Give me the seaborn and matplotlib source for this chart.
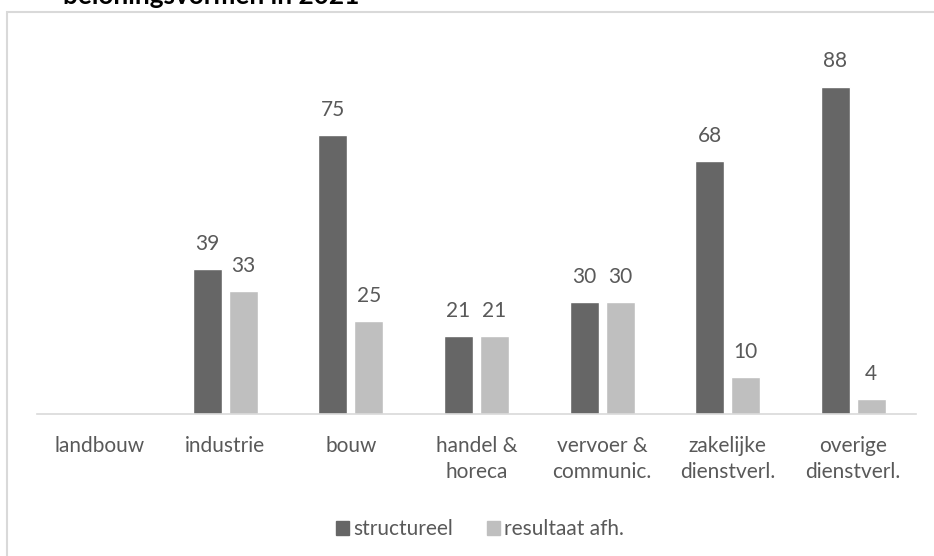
import pandas as pd
import numpy as np
import matplotlib.pyplot as plt
import seaborn as sns
from matplotlib.patches import Rectangle

sectoren = ['landbouw', 'industrie', 'bouw', 'handel &\nhoreca', 'vervoer &\ncommunic.',
            'zakelijke\ndienstverl.', 'overige\ndienstverl.']
structureel = [np.nan, 39, 75, 21, 30, 68, 88]
resultaat_afh = [np.nan, 33, 25, 21, 30, 10, 4]
vormen = ['structureel', 'resultaat afh.']

df = pd.DataFrame({
    'sector': sectoren * 2,
    'waarde': structureel + resultaat_afh,
    'vorm': [vormen[0]] * len(sectoren) + [vormen[1]] * len(sectoren),
})

sns.set_style('white')
plt.rcParams['font.family'] = ['Lato', 'DejaVu Sans']
tekst = '#595959'

fig = plt.figure(figsize=(9.34, 5.56), dpi=100)
ax = fig.add_axes([37 / 934, 142 / 556, 879 / 934, 372 / 556])

sns.barplot(data=df, x='sector', y='waarde', hue='vorm', order=sectoren, hue_order=vormen,
            palette=['#666666', '#bfbfbf'], width=0.573, gap=0.194, ax=ax, legend=False)

for c in ax.containers:
    ax.bar_label(c, fmt='%.0f', padding=11, fontsize=15, color=tekst)

ax.set_ylim(0, 100)
ax.set_xlim(-0.5, len(sectoren) - 0.5)
ax.set_xlabel('')
ax.set_ylabel('')
ax.set_yticks([])
ax.tick_params(axis='x', length=0, pad=16, labelsize=15, labelcolor=tekst)
for lbl in ax.get_xticklabels():
    lbl.set_linespacing(1.35)
for s in ['top', 'right', 'left']:
    ax.spines[s].set_visible(False)
ax.spines['bottom'].set_color('#d9d9d9')
ax.spines['bottom'].set_linewidth(1.2)

# legenda
handles = [Rectangle((0, 0), 1, 1, color=k) for k in ['#666666', '#bfbfbf']]
fig.legend(handles, vormen, loc='center', bbox_to_anchor=(480 / 934, 1 - 529 / 556), ncol=2,
           frameon=False, fontsize=15, labelcolor=tekst, handlelength=0.65, handleheight=0.65,
           handletextpad=0.2, columnspacing=1.6)

# kader en (afgesneden) titel zoals in het origineel
fig.patches.append(Rectangle((7 / 934, -0.1), 1.2, 1.1 - 12 / 556, transform=fig.transFigure,
                             fill=False, edgecolor='#d9d9d9', linewidth=1.5))
fig.text(63 / 934, 1 - 4.5 / 556, 'beloningsvormen in 2021', fontsize=18.8, fontweight='bold',
         color='black', va='baseline', ha='left')

fig.savefig('out.png', dpi=100)
